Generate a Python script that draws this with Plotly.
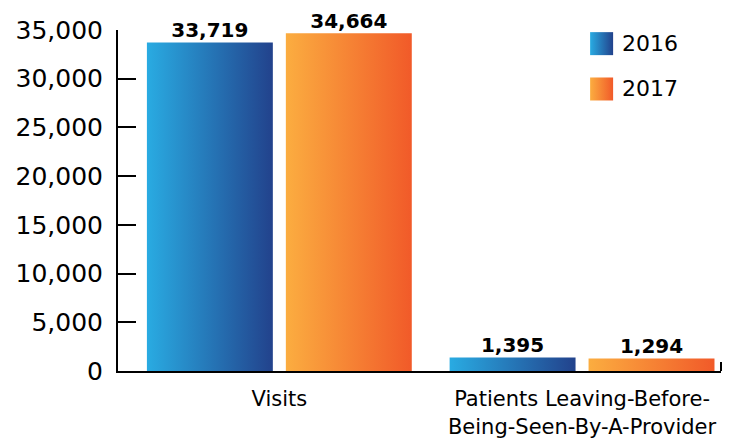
import plotly.graph_objects as go

# Data
categories = ["Visits", "Patients Leaving-Before-<br>Being-Seen-By-A-Provider"]
years = ["2016", "2017"]
values_2016 = [33719, 1395]
values_2017 = [34664, 1294]

# Horizontal gradient stops (left colour, right colour) per series
gradients = {
    "2016": ("#29ABE2", "#22428C"),
    "2017": ("#FBAD40", "#F15A29"),
}

FONT = "DejaVu Sans"
BAR_W = 0.416      # bar width in category units
OFFSET = 0.2295    # distance of each bar centre from the category centre

fig = go.Figure()

series = {"2016": values_2016, "2017": values_2017}
for si, year in enumerate(years):
    left_c, right_c = gradients[year]
    shift = -OFFSET if si == 0 else OFFSET
    for ci, val in enumerate(series[year]):
        xc = ci + shift
        x0, x1 = xc - BAR_W / 2, xc + BAR_W / 2
        fig.add_trace(go.Scatter(
            x=[x0, x0, x1, x1, x0],
            y=[0, val, val, 0, 0],
            mode="lines",
            fill="toself",
            line=dict(width=0, color=right_c),
            fillgradient=dict(type="horizontal",
                              colorscale=[[0, left_c], [1, right_c]]),
            showlegend=False,
            hoverinfo="skip",
        ))
        fig.add_trace(go.Scatter(
            x=[xc], y=[val],
            mode="text",
            text=[f"{val:,}"],
            textposition="top center",
            textfont=dict(family=FONT, size=20, color="black", weight="bold"),
            cliponaxis=False,
            showlegend=False,
            hoverinfo="skip",
        ))

# Legend swatches drawn on an overlay axis spanning the plot area
legend_y = [0.960, 0.827]
for year, ly in zip(years, legend_y):
    left_c, right_c = gradients[year]
    fig.add_trace(go.Scatter(
        x=[0.802], y=[ly],
        xaxis="x2", yaxis="y2",
        mode="markers",
        marker=dict(symbol="square", size=23, color=left_c,
                    gradient=dict(type="horizontal", color=right_c),
                    line=dict(width=0)),
        showlegend=False,
        hoverinfo="skip",
    ))
    fig.add_annotation(
        x=0.8325, y=ly, xref="x2", yref="y2",
        text=year, showarrow=False,
        xanchor="left", yanchor="middle",
        font=dict(family=FONT, size=22, color="black"),
    )

# Small end tick at the right end of the category axis
fig.add_shape(type="line", xref="paper", x0=1, x1=1,
              yref="y", ysizemode="pixel", yanchor=0, y0=0, y1=9,
              line=dict(color="black", width=2))

fig.update_layout(
    width=740, height=438,
    margin=dict(l=118, r=19, t=30, b=67),
    paper_bgcolor="white",
    plot_bgcolor="white",
    font=dict(family=FONT, color="black"),
    showlegend=False,
    xaxis=dict(
        range=[-0.533, 1.459],
        tickvals=[0, 1],
        ticktext=categories,
        ticks="",
        showline=True, linecolor="black", linewidth=2,
        showgrid=False, zeroline=False,
        ticklabelstandoff=8,
        automargin=False,
        tickfont=dict(family=FONT, size=21, color="black"),
    ),
    yaxis=dict(
        range=[0, 35000],
        tickvals=[0, 5000, 10000, 15000, 20000, 25000, 30000, 35000],
        tickformat=",d",
        ticks="inside", ticklen=18, tickwidth=2, tickcolor="black",
        showline=True, linecolor="black", linewidth=2,
        showgrid=False, zeroline=False,
        ticklabelstandoff=8,
        automargin=False,
        tickfont=dict(family=FONT, size=25, color="black"),
    ),
    xaxis2=dict(domain=[0, 1], range=[0, 1], overlaying="x",
                visible=False, fixedrange=True),
    yaxis2=dict(domain=[0, 1], range=[0, 1], overlaying="y",
                visible=False, fixedrange=True),
)

fig.write_html("out.html")
